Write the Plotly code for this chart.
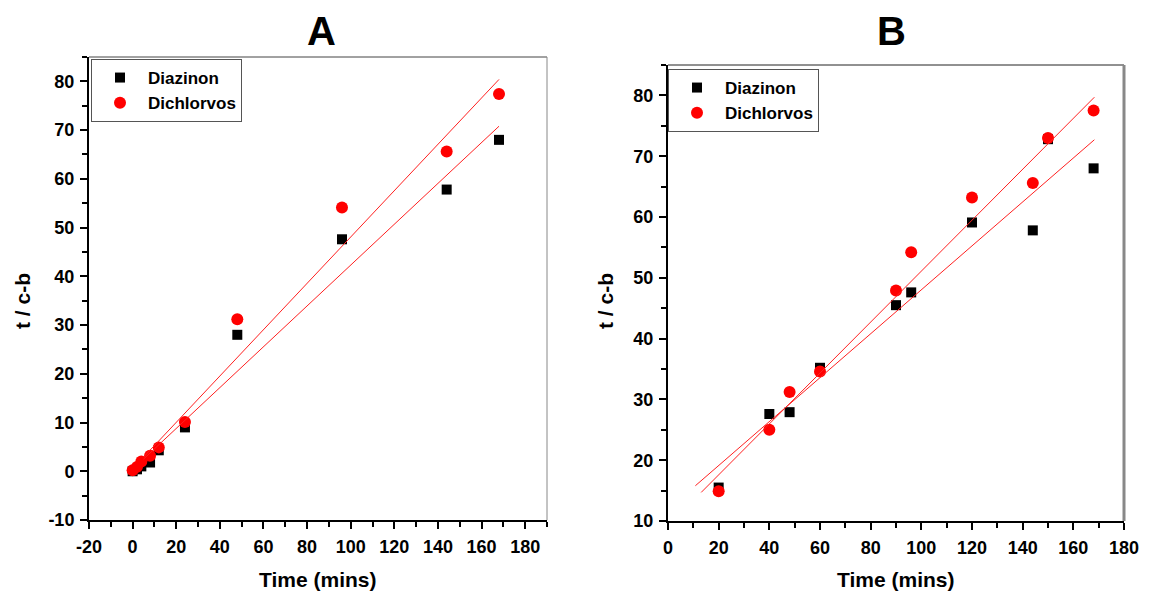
import plotly.graph_objects as go

# =========================
# DATA
# =========================
# Panel A
a_time = [0, 2, 4, 8, 12, 24, 48, 96, 144, 168]
a_diazinon = [0.0, 0.4, 1.0, 1.8, 4.3, 9.0, 28.0, 47.6, 57.8, 68.0]
a_dichlorvos = [0.2, 0.9, 2.0, 3.2, 4.9, 10.1, 31.2, 54.1, 65.6, 77.4]
a_fit_time = [5, 168]
a_fit_diazinon = [2.5, 70.8]
a_fit_dichlorvos = [2.9, 80.4]

# Panel B
b_time = [20, 40, 48, 60, 90, 96, 120, 144, 150, 168]
b_diazinon = [15.5, 27.6, 27.9, 35.2, 45.5, 47.6, 59.1, 57.8, 72.8, 68.0]
b_dichlorvos = [14.9, 25.0, 31.2, 34.6, 47.9, 54.2, 63.2, 65.6, 73.0, 77.5]
b_fit_time_diazinon = [10.8, 168.3]
b_fit_diazinon = [15.8, 72.7]
b_fit_time_dichlorvos = [13.1, 168.3]
b_fit_dichlorvos = [14.7, 79.7]

# axis ranges / tick labels
a_xrange = [-20, 190]
a_yrange = [-10, 85]
b_xrange = [0, 180]
b_yrange = [10, 85]
a_xticks = [-20, 0, 20, 40, 60, 80, 100, 120, 140, 160, 180]
a_yticks = [-10, 0, 10, 20, 30, 40, 50, 60, 70, 80]
b_xticks = [0, 20, 40, 60, 80, 100, 120, 140, 160, 180]
b_yticks = [10, 20, 30, 40, 50, 60, 70, 80]

panel_titles = ["A", "B"]
x_title = "Time (mins)"
y_title = "t / c-b"
series_names = ["Diazinon", "Dichlorvos"]

TICK_FONT = dict(family="Liberation Sans", size=18, color="black")
LEGEND_FONT = dict(family="Liberation Sans", size=17, color="black")

# page body has an 8px margin, so the figure is placed 8px in from the corner
OFF = 8
W, H = 1149 - OFF, 592 - OFF


def px_x(v):
    return (v - OFF) / W


def px_y(v):
    return (H - (v - OFF)) / H


def add_panel(fig, t, dia, dic, fit_t_dia, fit_dia, fit_t_dic, fit_dic, xa, ya, legend):
    fig.add_trace(go.Scatter(
        x=t, y=dia, mode="markers", name="<b>" + series_names[0] + "</b>",
        marker=dict(symbol="square", size=10, color="black"),
        xaxis=xa, yaxis=ya, legend=legend, legendgroup=legend + "a"))
    fig.add_trace(go.Scatter(
        x=t, y=dic, mode="markers", name="<b>" + series_names[1] + "</b>",
        marker=dict(symbol="circle", size=12, color="#ff0000"),
        xaxis=xa, yaxis=ya, legend=legend, legendgroup=legend + "b"))
    fig.add_trace(go.Scatter(
        x=fit_t_dia, y=fit_dia, mode="lines", showlegend=False,
        line=dict(color="#ff2020", width=1), xaxis=xa, yaxis=ya))
    fig.add_trace(go.Scatter(
        x=fit_t_dic, y=fit_dic, mode="lines", showlegend=False,
        line=dict(color="#ff2020", width=1), xaxis=xa, yaxis=ya))


def axis_style(rng, ticks, minor_dtick, domain, anchor):
    return dict(
        range=rng, domain=domain, anchor=anchor, automargin=False,
        tickmode="array", tickvals=ticks, ticktext=["<b>%d</b>" % v for v in ticks],
        ticks="outside", ticklen=7, tickwidth=2, tickcolor="black",
        minor=dict(tick0=0, dtick=minor_dtick, ticks="outside", ticklen=5,
                   tickwidth=2, tickcolor="black"),
        showline=True, linewidth=2, linecolor="black",
        showgrid=False, zeroline=False, tickfont=TICK_FONT, ticklabelstandoff=2,
    )


fig = go.Figure()
add_panel(fig, a_time, a_diazinon, a_dichlorvos, a_fit_time, a_fit_diazinon,
          a_fit_time, a_fit_dichlorvos, "x", "y", "legend")
add_panel(fig, b_time, b_diazinon, b_dichlorvos, b_fit_time_diazinon, b_fit_diazinon,
          b_fit_time_dichlorvos, b_fit_dichlorvos, "x2", "y2", "legend2")

a_xdom = [px_x(89), px_x(547)]
a_ydom = [px_y(520), px_y(57)]
b_xdom = [px_x(668), px_x(1124)]
b_ydom = [px_y(521), px_y(65)]

legend_box = dict(bgcolor="white", bordercolor="#555555", borderwidth=1,
                  font=LEGEND_FONT, xanchor="left", yanchor="top",
                  tracegroupgap=0, itemwidth=46)

fig.update_layout(
    width=W, height=H,
    margin=dict(l=0, r=0, t=0, b=0),
    paper_bgcolor="white", plot_bgcolor="white",
    showlegend=True,
    xaxis=axis_style(a_xrange, a_xticks, 10, a_xdom, "y"),
    yaxis=axis_style(a_yrange, a_yticks, 5, a_ydom, "x"),
    xaxis2=axis_style(b_xrange, b_xticks, 10, b_xdom, "y2"),
    yaxis2=axis_style(b_yrange, b_yticks, 5, b_ydom, "x2"),
    legend=dict(x=px_x(91), y=px_y(59), **legend_box),
    legend2=dict(x=px_x(668), y=px_y(69), **legend_box),
)

# frame: thin top/right border lines
fig.add_shape(type="line", xref="x domain", yref="y domain", x0=0, x1=1, y0=1, y1=1,
              line=dict(color="#444444", width=1))
fig.add_shape(type="line", xref="x domain", yref="y domain", x0=1, x1=1, y0=0, y1=1,
              line=dict(color="#888888", width=1))
fig.add_shape(type="line", xref="x2 domain", yref="y2 domain", x0=0, x1=1, y0=1, y1=1,
              line=dict(color="#222222", width=1))
fig.add_shape(type="line", xref="x2 domain", yref="y2 domain", x0=1, x1=1, y0=0, y1=1,
              line=dict(color="#888888", width=3))

# panel letters and axis titles
title_font = dict(family="Liberation Sans", size=40, color="black")
label_font = dict(family="Liberation Sans", size=21, color="black")
for letter, cx in zip(panel_titles, [322, 891]):
    fig.add_annotation(text="<b>" + letter + "</b>", x=px_x(cx), y=px_y(31),
                       xref="paper", yref="paper", showarrow=False, font=title_font,
                       xanchor="center", yanchor="middle")
for cx in [317, 895]:
    fig.add_annotation(text="<b>" + x_title + "</b>", x=px_x(cx), y=px_y(579),
                       xref="paper", yref="paper", showarrow=False, font=label_font,
                       xanchor="center", yanchor="middle")
for cx in [22, 605]:
    fig.add_annotation(text="<b>" + y_title + "</b>", x=px_x(cx), y=px_y(301),
                       xref="paper", yref="paper", showarrow=False, font=label_font,
                       textangle=-90, xanchor="center", yanchor="middle")

fig.write_html("out.html")
